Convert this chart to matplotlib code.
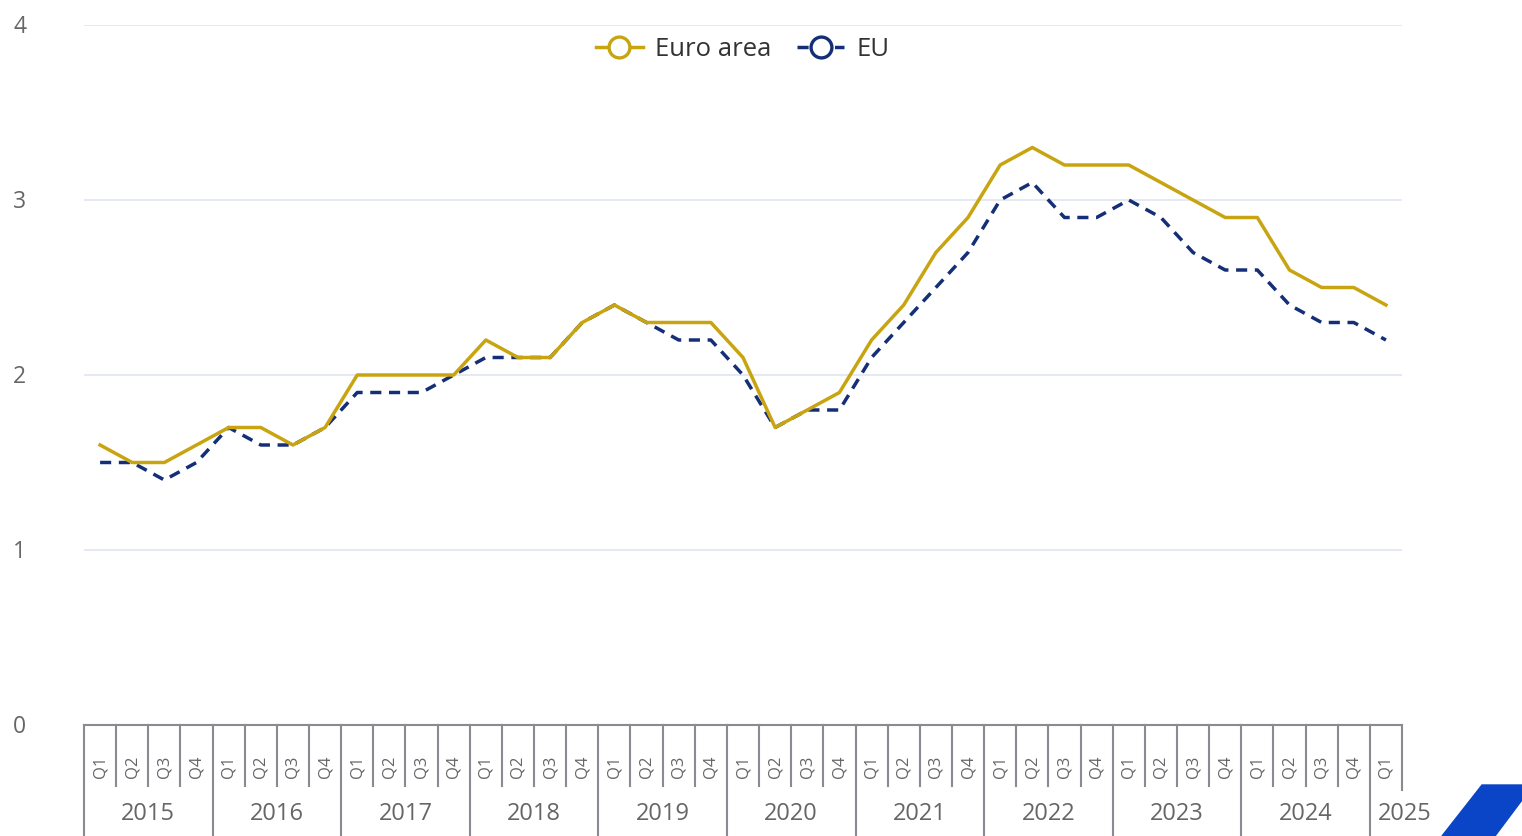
import matplotlib
matplotlib.use("Agg")
import matplotlib.pyplot as plt
from matplotlib.lines import Line2D
from matplotlib.patches import Polygon

plt.rcParams['font.family'] = ['Open Sans', 'DejaVu Sans']

years = [str(y) for y in range(2015, 2026)]
quarters = ["Q1", "Q2", "Q3", "Q4"]
euro_area = [1.6, 1.5, 1.5, 1.6,
             1.7, 1.7, 1.6, 1.7,
             2.0, 2.0, 2.0, 2.0,
             2.2, 2.1, 2.1, 2.3,
             2.4, 2.3, 2.3, 2.3,
             2.1, 1.7, 1.8, 1.9,
             2.2, 2.4, 2.7, 2.9,
             3.2, 3.3, 3.2, 3.2,
             3.2, 3.1, 3.0, 2.9,
             2.9, 2.6, 2.5, 2.5,
             2.4]
eu = [1.5, 1.5, 1.4, 1.5,
      1.7, 1.6, 1.6, 1.7,
      1.9, 1.9, 1.9, 2.0,
      2.1, 2.1, 2.1, 2.3,
      2.4, 2.3, 2.2, 2.2,
      2.0, 1.7, 1.8, 1.8,
      2.1, 2.3, 2.5, 2.7,
      3.0, 3.1, 2.9, 2.9,
      3.0, 2.9, 2.7, 2.6,
      2.6, 2.4, 2.3, 2.3,
      2.2]
yticks = [0, 1, 2, 3, 4]

n = len(euro_area)
labels = []
for i in range(n):
    labels.append((years[i // 4], quarters[i % 4]))

GOLD = "#c9a411"
NAVY = "#142f78"
GREY_TXT = "#666666"
AXIS = "#8a8a90"

fig = plt.figure(figsize=(15.22, 8.36), dpi=100)
W, H = 1522, 836
left, right, top, bottom = 84, 1402, 25, 725
ax = fig.add_axes([left / W, 1 - bottom / H, (right - left) / W, (bottom - top) / H])

x = list(range(n))
ax.plot(x, euro_area, color=GOLD, lw=2.5, zorder=3)
ax.plot(x, eu, color=NAVY, lw=2.5, ls=(0, (3.2, 2.2)), zorder=2)

ax.set_xlim(-0.5, n - 0.5)
ax.set_ylim(0, 4)
ax.set_yticks(yticks)
ax.set_yticklabels([])
ax.tick_params(axis='y', length=0)
ax.set_xticks([])
for s in ['top', 'right', 'left']:
    ax.spines[s].set_visible(False)
ax.spines['bottom'].set_color(AXIS)
ax.spines['bottom'].set_linewidth(1.5)
ax.grid(axis='y', color="#e3e7f1", lw=1.3)
ax.set_axisbelow(True)

ph = bottom - top
# y labels
ytrans = ax.get_yaxis_transform()
for v in yticks:
    ax.text((13 - left) / (right - left), v - 2 / 175, str(v), transform=ytrans,
            ha='left', va='center', fontsize=16.5, color=GREY_TXT, clip_on=False)

# category axis drawing
trans = ax.get_xaxis_transform()
def ay(ypx):
    return (bottom - ypx) / ph

for i in range(n + 1):
    xb = i - 0.5
    if i == n:
        y_end = ay(790)
    elif i % 4 == 0:
        y_end = ay(840)
    else:
        y_end = ay(786)
    ax.add_line(Line2D([xb, xb], [0, y_end], transform=trans, color=AXIS,
                       lw=1.5, clip_on=False))

for i in range(n):
    ax.text(i, ay(767), labels[i][1], transform=trans, rotation=90,
            ha='center', va='center', fontsize=12, color=GREY_TXT, clip_on=False)

for k, yr in enumerate(years):
    idx = [i for i in range(n) if labels[i][0] == yr]
    if len(idx) == 4:
        cx = (idx[0] + idx[-1]) / 2
    else:
        cx = idx[0] + 0.6
    ax.text(cx, ay(814), yr, transform=trans, ha='center', va='center',
            fontsize=17, color=GREY_TXT, clip_on=False)

# legend
handles = [Line2D([], [], color=GOLD, lw=2.5, marker='o', markersize=15,
                  markerfacecolor='white', markeredgecolor=GOLD, markeredgewidth=2.4),
           Line2D([], [], color=NAVY, lw=2.5, ls=(0, (3.2, 2.2)), marker='o', markersize=15,
                  markerfacecolor='white', markeredgecolor=NAVY, markeredgewidth=2.4)]
leg = ax.legend(handles, ["Euro area", "EU"], loc='center', bbox_to_anchor=(0.5, (bottom - 49) / ph),
                ncol=2, frameon=False, fontsize=18.5, handlelength=1.8, handletextpad=0.5,
                columnspacing=1.0, labelcolor="#333333")

# logo parallelogram bottom right
poly = Polygon([[1482 / W, 1 - 785 / H], [1522 / W, 1 - 785 / H], [1522 / W, 1 - 800 / H],
                [1495 / W, 1 - 836 / H], [1442 / W, 1 - 836 / H]],
               closed=True, transform=fig.transFigure, color="#0b45c7")
fig.patches.append(poly)

fig.savefig("out.png", dpi=100)
